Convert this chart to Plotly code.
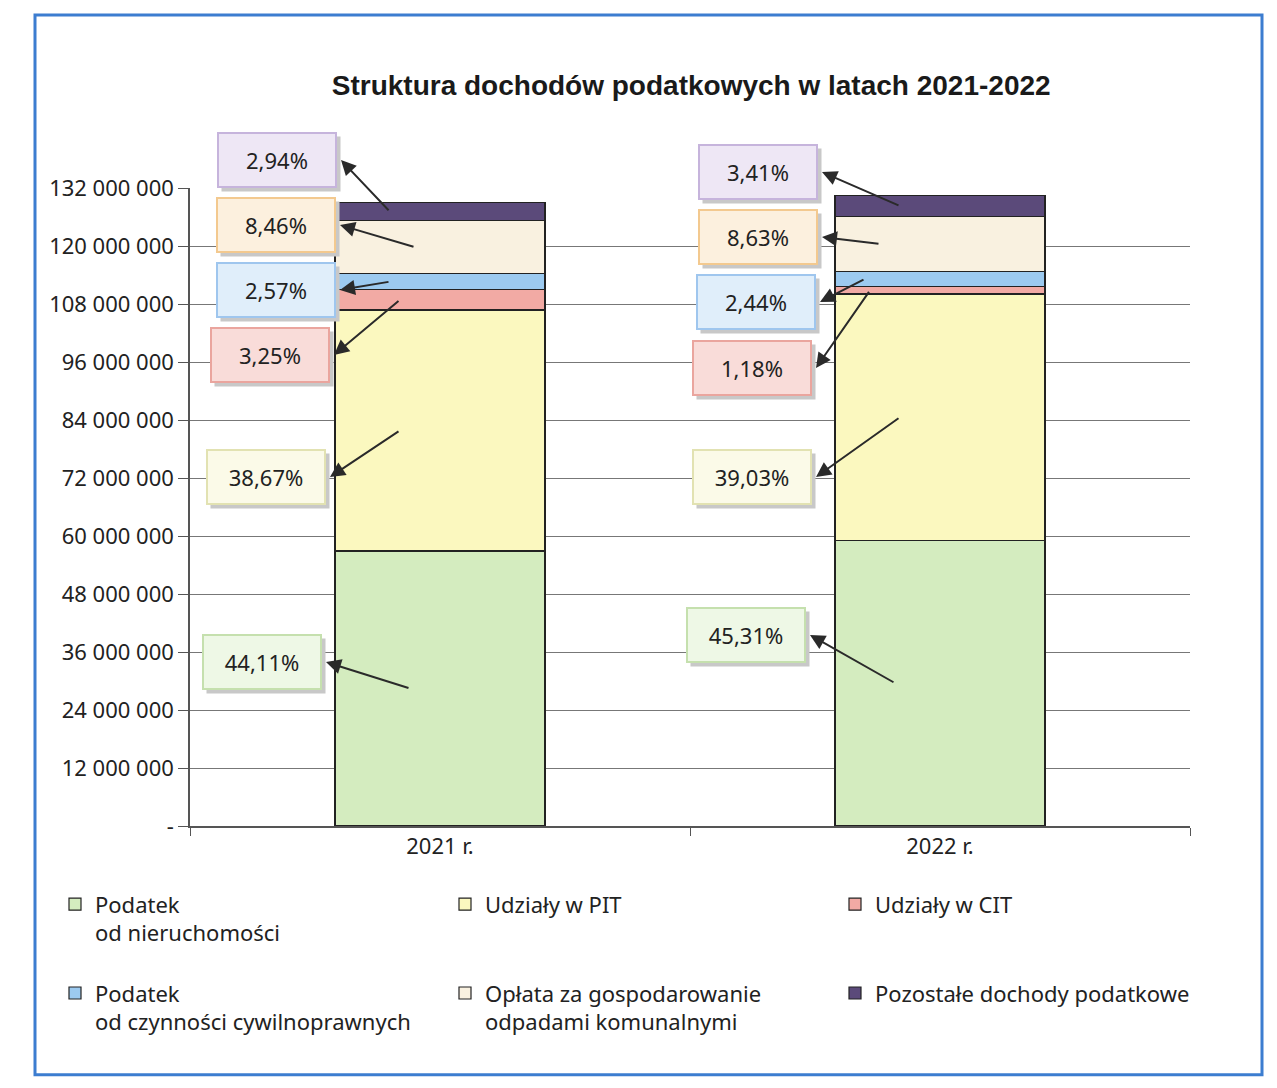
import plotly.graph_objects as go

# ---- data ----
years = ["2021 r.", "2022 r."]
series_names = [
    "Podatek<br>od nieruchomości<br>&nbsp;",
    "Udziały w PIT",
    "Udziały w CIT",
    "Podatek<br>od czynności cywilnoprawnych",
    "Opłata za gospodarowanie<br>odpadami komunalnymi",
    "Pozostałe dochody podatkowe",
]
# values (PLN)
podatek_nieruch = [56_900_000, 59_130_000]
udzialy_pit = [49_880_000, 50_930_000]
udzialy_cit = [4_190_000, 1_540_000]
podatek_pcc = [3_320_000, 3_180_000]
oplata_odpady = [10_910_000, 11_260_000]
pozostale = [3_790_000, 4_450_000]
values = [podatek_nieruch, udzialy_pit, udzialy_cit, podatek_pcc, oplata_odpady, pozostale]

pct_2021 = ["44,11%", "38,67%", "3,25%", "2,57%", "8,46%", "2,94%"]
pct_2022 = ["45,31%", "39,03%", "1,18%", "2,44%", "8,63%", "3,41%"]

tick_vals = [0, 12e6, 24e6, 36e6, 48e6, 60e6, 72e6, 84e6, 96e6, 108e6, 120e6, 132e6]
tick_text = ["-", "12 000 000", "24 000 000", "36 000 000", "48 000 000", "60 000 000",
             "72 000 000", "84 000 000", "96 000 000", "108 000 000", "120 000 000", "132 000 000"]
YMAX = 132e6

# ---- style ----
colors = ["#d4ecbf", "#fbf8bf", "#f2aaa4", "#9ccaf0", "#f9f1e0", "#5b4a7a"]
box_bg = ["#eef8e6", "#fbfae8", "#f9dcd9", "#e0eefa", "#fcf0de", "#eee7f5"]
box_border = ["#c5e0ae", "#e2e2b2", "#eaa59e", "#9fc6ee", "#f3c98f", "#c6b4dc"]

fig = go.Figure()
for name, vals, col in zip(series_names, values, colors):
    fig.add_trace(go.Bar(x=years, y=vals, name=name,
                         marker=dict(color=col, line=dict(color="#222222", width=1.2))))

# plot area in screenshot pixels (for annotation placement); page has 8px body margin
OFF = 8
L, T, W, H = 190, 188, 1000, 638

def fx(px):
    return (px - L) / W * 2 - 0.5  # category axis coord

def fy(py):
    return (T + H - py) / H  # paper coord

# box centres (pixels) per year, ordered as series
box_pos = [
    [(262, 662), (266, 477), (270, 355), (276, 290), (276, 225), (277, 160)],
    [(746, 635), (752, 477), (752, 368), (756, 302), (758, 237), (758, 172)],
]
tail_dx = [[-0.06, -0.08, -0.08, -0.1, -0.05, -0.1], [-0.09, -0.08, -0.14, -0.15, -0.12, -0.08]]
pcts = [pct_2021, pct_2022]

for yi in range(2):
    cum = 0
    for si in range(6):
        v = values[si][yi]
        mid = cum + v / 2
        cum += v
        bx, by = box_pos[yi][si]
        # shadow
        fig.add_annotation(x=fx(bx + 4), y=fy(by + 4), xref="x", yref="paper",
                           xanchor="center", yanchor="middle",
                           text="&#8203;", showarrow=False, width=118, height=54,
                           bgcolor="#c8c8c8", borderpad=0)
        fig.add_annotation(x=fx(bx), y=fy(by), xref="x", yref="paper",
                           xanchor="center", yanchor="middle",
                           text=pcts[yi][si], showarrow=False, width=114, height=50,
                           font=dict(family="Noto Sans", size=22, color="#222222"),
                           bgcolor=box_bg[si], bordercolor=box_border[si], borderwidth=2)
        # arrow: from bar segment to the box
        head_x = fx(bx + 64)
        head_y = fy(by) * YMAX
        tail_x = yi + tail_dx[yi][si]
        tail_y = mid
        fig.add_annotation(x=head_x, y=head_y, ax=tail_x, ay=tail_y,
                           xref="x", yref="y", axref="x", ayref="y",
                           text="", showarrow=True, arrowhead=2, arrowsize=1.5,
                           arrowwidth=2, arrowcolor="#2a2a2a")

fig.update_layout(
    width=1277, height=1088,
    margin=dict(l=L - OFF, r=1277 - L - W + OFF, t=T - OFF, b=1088 - T - H + OFF),
    paper_bgcolor="white", plot_bgcolor="white",
    barmode="stack", bargap=0.58,
    title=dict(text="<b>Struktura dochodów podatkowych w latach 2021-2022</b>",
               x=0.535, xanchor="center", y=1 - (85 - OFF) / 1088, yanchor="middle",
               font=dict(family="Liberation Sans", size=28, color="#1a1a1a")),
    font=dict(family="Noto Sans", size=22, color="#222222"),
    showlegend=True,
    legend=dict(orientation="h", x=-0.135, xanchor="left", y=-0.09, yanchor="top",
                entrywidth=345, entrywidthmode="pixels", traceorder="normal",
                valign="top",
                font=dict(family="Noto Sans", size=22, color="#222222"),
                itemwidth=30, tracegroupgap=10),
    shapes=[dict(type="rect", xref="paper", yref="paper", x0=-0.155, x1=1.072,
                 y0=-0.39, y1=1.271, line=dict(color="#3c7dd0", width=3))],
)
fig.update_xaxes(type="category", range=[-0.5, 1.5], showline=True, linecolor="#555555",
                 linewidth=1.5, ticks="outside", tickson="boundaries", ticklen=8,
                 tickcolor="#555555", tickfont=dict(size=22), showgrid=False)
fig.update_yaxes(range=[0, YMAX], tickvals=tick_vals, ticktext=tick_text,
                 showline=True, linecolor="#555555", linewidth=1.5, ticks="outside",
                 ticklen=10, tickcolor="#555555", showgrid=True, gridcolor="#777777",
                 gridwidth=1, tickfont=dict(size=22), zeroline=False)

fig.write_html("out.html")
